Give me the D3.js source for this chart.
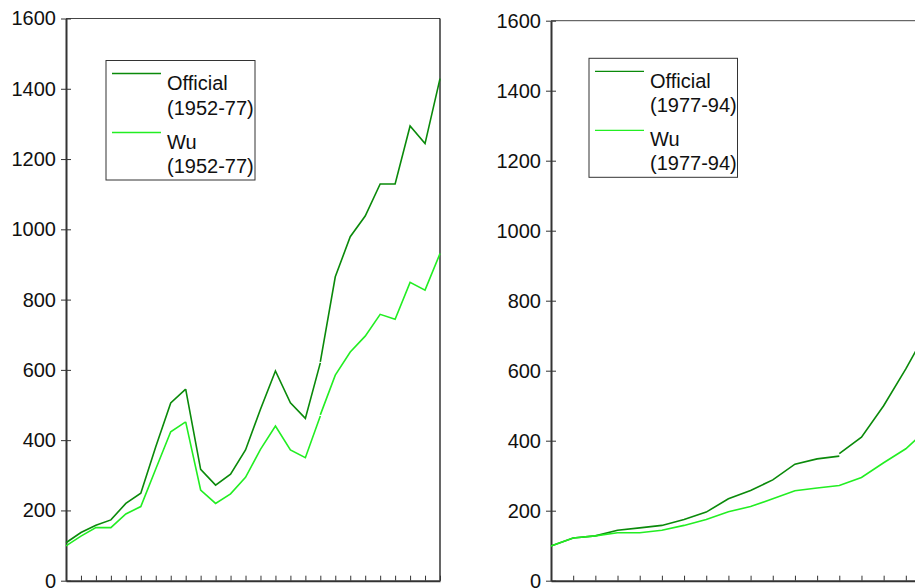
<!DOCTYPE html>
<html>
<head>
<meta charset="utf-8">
<script src="https://cdn.jsdelivr.net/npm/d3@7"></script>
<style>
  html, body { margin: 0; padding: 0; background: #fff; }
  svg { display: block; font-family: "Liberation Sans", Arial, sans-serif; }
</style>
</head>
<body>
<svg id="chart" width="915" height="588"></svg>
<script>
// Indices, 1952-77 panel
const yearsLeft = [1952, 1953, 1954, 1955, 1956, 1957, 1958, 1959, 1960, 1961, 1962, 1963, 1964,
                   1965, 1966, 1967, 1968, 1969, 1970, 1971, 1972, 1973, 1974, 1975, 1976, 1977];
const officialLeft = [108, 137, 158, 173, 220, 249, 381, 506, 545, 317, 272, 303, 372,
                      488, 597, 506, 462, 620, 865, 979, 1038, 1129, 1129, 1294, 1244, 1429];
const wuLeft = [99, 127, 151, 151, 190, 211, 318, 424, 452, 258, 220, 247, 294,
                374, 440, 372, 350, 469, 585, 651, 696, 758, 744, 849, 827, 931];
// years where the chained series restart, and the value each new link starts from
const officialLeftBreaks = [1960, 1969];
const officialLeftRestart = [545, 623];
const wuLeftBreaks = [1960, 1969];
const wuLeftRestart = [452, 472];

// Indices, 1977-94 panel
const yearsRight = [1977, 1978, 1979, 1980, 1981, 1982, 1983, 1984, 1985,
                    1986, 1987, 1988, 1989, 1990, 1991, 1992, 1993, 1994];
const officialRight = [99, 122, 128, 144, 151, 158, 175, 196, 234,
                       258, 288, 333, 348, 356, 410, 500, 605, 720];
const wuRight = [99, 122, 128, 137, 137, 144, 158, 175, 197,
                 212, 234, 257, 265, 272, 295, 337, 377, 435];
const officialRightBreaks = [1990];
const officialRightRestart = [363];
const wuRightBreaks = [];
const wuRightRestart = [];

const yTicks = [0, 200, 400, 600, 800, 1000, 1200, 1400, 1600];
const seriesNames = ["Official", "Wu"];
const seriesColors = ["#0a8a0a", "#22ee22"];

const svg = d3.select("#chart");
svg.append("rect").attr("width", 915).attr("height", 588).attr("fill", "#fff");

function splitSegments(years, values, breaks, restart) {
  const segs = [];
  let cur = [];
  years.forEach((yr, i) => {
    cur.push({ year: yr, value: values[i] });
    const b = breaks.indexOf(yr);
    if (b >= 0) {
      segs.push(cur);
      cur = [{ year: yr, value: restart[b] }];
    }
  });
  if (cur.length > 1) segs.push(cur);
  return segs;
}

function drawPanel(opt) {
  const g = svg.append("g");
  const x = d3.scaleLinear()
    .domain([opt.years[0], opt.years[opt.years.length - 1]])
    .range([opt.x0, opt.x1]);
  const y = d3.scaleLinear().domain([0, 1600]).range([opt.yBottom, opt.yTop]);

  // frame: top and right edges
  g.append("line")
    .attr("x1", opt.x0).attr("x2", opt.x1)
    .attr("y1", y(1600)).attr("y2", y(1600))
    .attr("stroke", "#444").attr("stroke-width", 1);
  g.append("line")
    .attr("x1", opt.x1).attr("x2", opt.x1)
    .attr("y1", y(1600)).attr("y2", y(0))
    .attr("stroke", "#000").attr("stroke-width", 1.2);

  // x axis with inward ticks, no labels
  const xAxis = g.append("g")
    .attr("transform", `translate(0,${y(0)})`)
    .call(d3.axisBottom(x).tickValues(opt.years).tickFormat("").tickSizeInner(-5).tickSizeOuter(0));
  xAxis.select(".domain").attr("stroke", "#333").attr("stroke-width", 2);
  xAxis.selectAll(".tick line").attr("stroke", "#333").attr("stroke-width", 1);

  // y axis with ticks crossing the axis line
  const yAxis = g.append("g")
    .attr("transform", `translate(${opt.x0},0)`)
    .call(d3.axisLeft(y).tickValues(yTicks).tickFormat(d3.format("d")).tickSizeInner(5).tickSizeOuter(0).tickPadding(5));
  yAxis.select(".domain").attr("stroke", "#333").attr("stroke-width", 2);
  yAxis.selectAll(".tick line").attr("x1", 5).attr("x2", -5).attr("stroke", "#333").attr("stroke-width", 1);
  yAxis.selectAll(".tick text")
    .attr("fill", "#111")
    .style("font-size", "20px")
    .style("font-family", "'Liberation Sans', Arial, sans-serif");

  const line = d3.line().x(d => x(d.year)).y(d => y(d.value));
  opt.series.forEach((s, k) => {
    splitSegments(opt.years, s.values, s.breaks, s.restart).forEach(seg => {
      g.append("path")
        .attr("d", line(seg))
        .attr("fill", "none")
        .attr("stroke", seriesColors[k])
        .attr("stroke-width", 1.6)
        .attr("stroke-linecap", "butt");
    });
  });

  // legend
  const L = opt.legend;
  const lg = g.append("g").attr("transform", `translate(${L.x},${L.y})`);
  lg.append("rect")
    .attr("x", 0).attr("y", 0).attr("width", L.w).attr("height", L.h)
    .attr("fill", "#fff").attr("stroke", "#333").attr("stroke-width", 1);
  const lineY = [13, 72];
  const textY = [[29.5, 54], [88, 112]];
  seriesNames.forEach((name, k) => {
    lg.append("line")
      .attr("x1", 6).attr("x2", 55)
      .attr("y1", lineY[k]).attr("y2", lineY[k])
      .attr("stroke", seriesColors[k]).attr("stroke-width", 1.3);
    lg.append("text").attr("x", 61).attr("y", textY[k][0])
      .attr("fill", "#111").style("font-size", "20px").text(name);
    lg.append("text").attr("x", 61).attr("y", textY[k][1])
      .attr("fill", "#111").style("font-size", "20px").text(L.period);
  });
}

drawPanel({
  years: yearsLeft, x0: 66, x1: 440, yTop: 18.5, yBottom: 580.7,
  series: [
    { values: officialLeft, breaks: officialLeftBreaks, restart: officialLeftRestart },
    { values: wuLeft, breaks: wuLeftBreaks, restart: wuLeftRestart }
  ],
  legend: { x: 106, y: 60.5, w: 149, h: 119.5, period: "(1952-77)" }
});

drawPanel({
  years: yearsRight, x0: 551, x1: 928, yTop: 20.7, yBottom: 580.7,
  series: [
    { values: officialRight, breaks: officialRightBreaks, restart: officialRightRestart },
    { values: wuRight, breaks: wuRightBreaks, restart: wuRightRestart }
  ],
  legend: { x: 589, y: 58.3, w: 148.5, h: 119, period: "(1977-94)" }
});
</script>
</body>
</html>
